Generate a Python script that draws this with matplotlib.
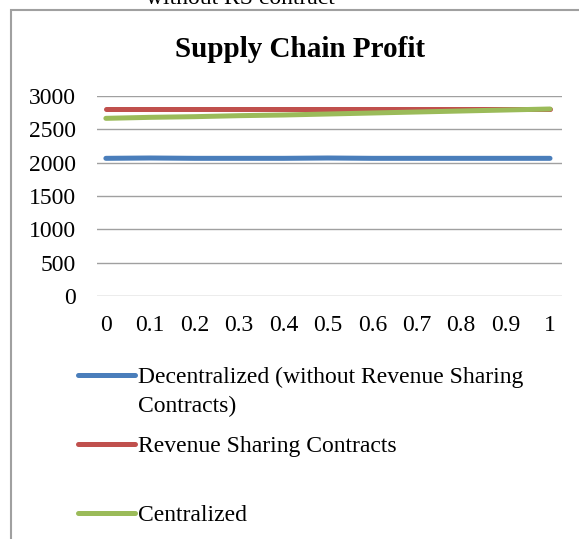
import matplotlib.pyplot as plt
from matplotlib.lines import Line2D
from matplotlib.patches import Rectangle

plt.rcParams['font.family'] = ['Liberation Serif', 'DejaVu Serif']

# x values (share of revenue) and supply chain profit per scenario
x_vals = [0, 0.1, 0.2, 0.3, 0.4, 0.5, 0.6, 0.7, 0.8, 0.9, 1]
x_labels = ["0", "0.1", "0.2", "0.3", "0.4", "0.5", "0.6", "0.7", "0.8", "0.9", "1"]
decentralized = [2065, 2070, 2065, 2065, 2065, 2070, 2065, 2065, 2065, 2065, 2065]
revenue_sharing = [2810, 2810, 2810, 2810, 2810, 2810, 2810, 2810, 2810, 2810, 2810]
centralized = [2665, 2680, 2690, 2705, 2715, 2730, 2745, 2760, 2775, 2790, 2805]

series_names = ["Decentralized (without Revenue Sharing\nContracts)",
                "Revenue Sharing Contracts",
                "Centralized"]
colors = ["#4a7ebb", "#c0504d", "#9bbb59"]

W, H = 579, 539
fig = plt.figure(figsize=(W / 100, H / 100), dpi=100)

# plot area in pixels
left, right, top, bottom = 97, 562, 96, 296
ax = fig.add_axes([left / W, 1 - bottom / H, (right - left) / W, (bottom - top) / H])

for vals, c in zip([decentralized, revenue_sharing, centralized], colors):
    ax.plot(x_vals, vals, color=c, lw=3.6, solid_capstyle='round', zorder=3)

ax.set_xlim(-0.02, 1.027)
ax.set_ylim(0, 3000)
ax.set_yticks(range(0, 3001, 500))
ax.set_xticks(x_vals)
ax.set_xticklabels(x_labels)
ax.grid(axis='y', color='#a0a0a0', lw=1.0)
ax.set_axisbelow(True)
for s in ax.spines.values():
    s.set_visible(False)
ax.tick_params(length=0, labelsize=17)
ax.tick_params(axis='x', pad=14)
ax.tick_params(axis='y', pad=15)

# outer chart frame (right and bottom edges fall outside the picture)
fig.add_artist(Rectangle((11 / W, -0.05), 1.2, 1 - 10 / H + 0.05, transform=fig.transFigure,
                         fill=False, edgecolor='#a0a0a0', lw=1.5, clip_on=False))

# caption of the figure above, cut by the top edge
fig.text(240 / W, 1 - 3.5 / H, "without RS contract", ha='center', va='baseline', fontsize=17)

fig.text(300 / W, 1 - 57 / H, "Supply Chain Profit", ha='center', va='baseline',
         fontsize=21, fontweight='bold')

# legend
legend_y = [375, 444, 513]
for name, c, yy in zip(series_names, colors, legend_y):
    fig.add_artist(Line2D([78 / W, 135 / W], [1 - yy / H, 1 - yy / H], transform=fig.transFigure,
                          color=c, lw=3.6, solid_capstyle='round'))
    lines = name.split("\n")
    for i, txt in enumerate(lines):
        fig.text(138 / W, 1 - (yy + 8 + 29 * i) / H, txt, ha='left', va='baseline', fontsize=17)

fig.savefig("out.png", dpi=100)
